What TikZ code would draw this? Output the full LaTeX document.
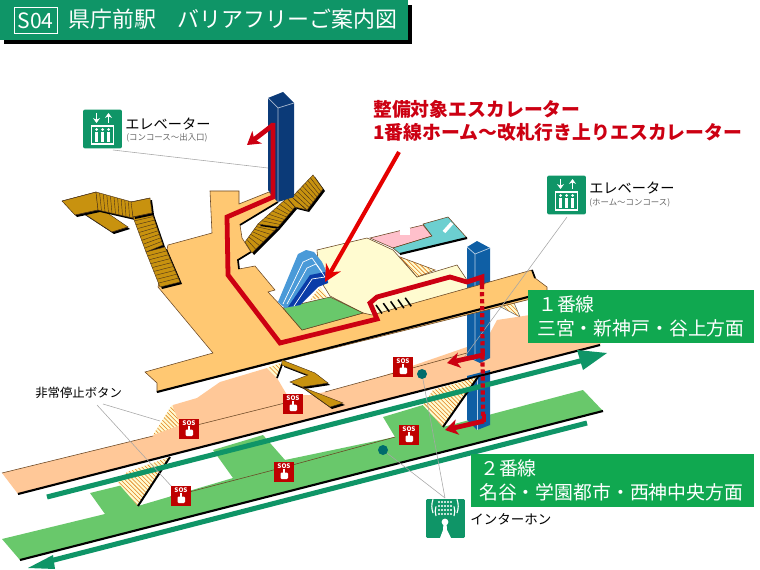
\documentclass[tikz,border=0pt]{standalone}
\usepackage{fontspec}
\setmainfont{Noto Sans CJK JP}
\usetikzlibrary{arrows.meta,calc,patterns}

\definecolor{signgreen}{HTML}{0F9567}
\definecolor{boxgreen}{HTML}{10A850}
\definecolor{floorgreen}{HTML}{69C86B}
\definecolor{concourse}{HTML}{FFC872}
\definecolor{platform}{HTML}{FFC898}
\definecolor{stairgold}{HTML}{C8920F}
\definecolor{navy}{HTML}{0B3A78}
\definecolor{liftblue}{HTML}{0F5FA5}
\definecolor{routered}{HTML}{CC0012}
\definecolor{paleyellow}{HTML}{FFFBD0}
\definecolor{roompink}{HTML}{FFC0CB}
\definecolor{roomteal}{HTML}{6CCFD0}
\definecolor{esclight}{HTML}{4A9AD8}
\definecolor{escdark}{HTML}{0A3CA8}

\tikzset{
  floorline/.style={draw=black!45!brown,line width=.4pt},
  blackedge/.style={draw=black,line width=1.5pt},
  hatched/.style={fill=paleyellow,postaction={pattern=north west lines,pattern color=orange!55!brown}},
  route/.style={draw=routered,line width=3.4pt,line join=miter},
  routearrow/.style={route,-{Stealth[length=9pt,width=11pt,inset=2.5pt]}},
  leader/.style={draw=black!35,line width=.4pt},
  railarrow/.style={draw=signgreen,line width=3.6pt},
  signbox/.style={fill=signgreen,rounded corners=1.5pt,minimum size=27.7pt,inner sep=0pt},
  sosbox/.style={fill=red!75!black,minimum size=14.2pt,inner sep=0pt},
  gokubox/.style={fill=boxgreen,anchor=north west,inner sep=0pt},
  whitetext/.style={text=white,font=\fontsize{13.4pt}{16pt}\selectfont,anchor=west,inner sep=0pt},
  redtext/.style={text=routered,font=\fontsize{13.4pt}{16pt}\selectfont\bfseries,anchor=west,inner sep=0pt},
  signtext/.style={font=\fontsize{10.1pt}{12pt}\selectfont,anchor=west,inner sep=0pt},
  subtext/.style={text=black!60,font=\fontsize{6pt}{7pt}\selectfont,anchor=west,inner sep=0pt},
  elevsign/.pic={
    \draw[white,line width=1.1pt,-{Stealth[length=3.5pt,width=5pt]}] (-6,-16)--(-6,-6);
    \draw[white,line width=1.1pt,-{Stealth[length=3.5pt,width=5pt]}] (6,-6)--(6,-16);
    \draw[white,line width=.9pt] (-11,-3) rectangle (11,15);
    \foreach \i in {-6,0,6} {
      \fill[white] (\i-1.5,3) rectangle (\i+1.5,13);
      \fill[white] (\i,0.5) circle (1.5);
    }
  }
}

% one flight of steps: corners a b c d, treads between a-d and b-c
\newcommand{\stairflight}[5]{
  \fill[black] ($#1+(2,2)$)--($#2+(2,2)$)--($#3+(2,2)$)--($#4+(2,2)$)--cycle;
  \filldraw[fill=stairgold,draw=black!60!brown,line width=.3pt] #1--#2--#3--#4--cycle;
  \foreach \t in {1,...,#5} {
    \draw[black!60!brown,line width=.3pt] ($#1!{\t/(#5+1)}!#4$)--($#2!{\t/(#5+1)}!#3$);
  }
}

\begin{document}
\begin{tikzpicture}[x=.025cm,y=-.025cm]
\useasboundingbox (0,0) rectangle (760,570);

% title bar
\fill[black] (4,5) rectangle (412,44);
\fill[signgreen] (0,0) rectangle (408,40);
\node[draw=white,line width=.6pt,text=white,minimum width=30.5pt,minimum height=19pt,inner sep=0pt,
  font=\fontsize{15pt}{15pt}\selectfont] (lineno) at (35.5,20.5) {S04};
\node[anchor=west,text=white,inner sep=0pt,font=\fontsize{15.6pt}{18pt}\selectfont] (title) at (68,19.5) {県庁前駅　バリアフリーご案内図};

% back of the concourse
\fill[paleyellow,floorline] (317,250)--(367,238)--(393,250)--(417,277)--(457,265)--(467,280)--(470,300)--(380,322)--(363,313)--(330,296)--(320,280)--cycle;
\filldraw[fill=roompink,floorline] (370,238)--(423,225)--(432,236)--(393,248)--cycle;
\fill[white] (400,228) rectangle (410,235);
\filldraw[fill=roomteal,floorline] (423,224)--(448,217)--(467,238)--(400,254)--(393,248)--(432,236)--cycle;
\draw[blackedge] (400,254)--(467,238);
\draw[white,line width=2.5pt] (444,232)--(452,223);
\filldraw[hatched,floorline] (400,257)--(435,270)--(417,277)--cycle;

% platforms
\filldraw[hatched,draw=black!60,line width=.4pt] (497,305)--(512,298)--(520,317)--cycle;
\fill[platform] (2,473)--(153,436)--(173,405)--(197,398)--(220,382)--(267,368)--(277,378)--(287,395)--(310,395)--(325,392)--(380,377)--(467,347)--(490,333)--(497,320)--(530,315)--(610,315)--(600,345)--(18,494)--cycle;
\draw[floorline] (2,473)--(153,436) (325,392)--(467,353) (197,425)--(285,403);
\fill[floorgreen] (2,539)--(105,514)--(90,493)--(135,482)--(138,506)--(233,478)--(213,450)--(263,435)--(285,460)--(395,437)--(383,417)--(423,405)--(443,427)--(583,390)--(603,411)--(20,560)--cycle;
\draw[floorline] (170,497)--(285,467)--(395,437);

% lift shaft through both levels
\fill[liftblue] (467,247)--(477,241)--(490,248)--(490,358)--(480,363)--(467,357)--cycle;
\draw[white!70!liftblue,line width=.5pt] (467,247)--(475,254)--(490,248) (475,254)--(475,360);
\fill[liftblue] (467,376)--(490,370)--(490,425)--(477,430)--(467,420)--cycle;
\draw[white!70!liftblue,line width=.5pt] (477,375)--(477,430);
\draw[blackedge] (18,494)--(600,345);
\draw[blackedge] (20,560)--(603,411);

% walls at the stair wells
\path[hatched] (153,435)--(172,405)--(180,425)--cycle;
\path[hatched] (127,472)--(170,457)--(138,506)--(118,483)--cycle;
\draw[black,line width=1.4pt] (170,457)--(138,506);
\path[hatched] (423,405)--(433,390)--(478,377)--(443,427)--cycle;
\draw[black,line width=1.4pt] (478,377)--(443,427);
\path[hatched] (267,368)--(283,362)--(277,378)--cycle;
\draw[black,line width=1.2pt] (283,362)--(277,378);

% rail direction arrows
\draw[railarrow] (47,497)--(584,360);
\fill[signgreen] (577,350)--(607,353)--(583,370)--cycle;
\draw[railarrow] (587,423)--(50,561);
\fill[signgreen] (28,568)--(53,555)--(55,569)--cycle;

% concourse
\filldraw[fill=concourse,floorline] (210,191)--(239,191)--(239,204)--(269,192)--(278,202)--(240,225)--(242,238)--(251,252)--(238,260)--(239,269)--(255,266)--(275,290)--(268,292)--(283,308)--(302,330)--(363,313)--(372,315)--(532,270)--(535,278)--(547,287)--(547,295)--(157,392)--(157,383)--(145,372)--(213,353)--(158,287)--(168,245)--(212,233)--cycle;
\draw[blackedge] (157,392)--(528,297);
\draw[black,line width=1.2pt] (278,202)--(240,225) (251,252)--(238,260)--(239,269) (532,270)--(535,278);
\filldraw[fill=floorgreen,floorline] (283,308)--(330,297)--(363,313)--(302,330)--cycle;

% escalator
\filldraw[hatched,draw=none] (310,300)--(320,287)--(328,297)--cycle;
\fill[esclight] (278,302)--(298,254)--(306,250)--(314,252)--(322,262)--(328,275)--(328,283)--(318,285)--(300,305)--(285,308)--cycle;
\fill[escdark] (288,307)--(310,275)--(325,272)--(328,283)--(318,287)--(300,305)--cycle;
\draw[white,line width=.5pt] (283,304)--(303,262)--(312,258)--(322,272);
\draw[white,line width=.5pt] (287,304)--(307,268)--(316,264)--(325,277);
\draw[white,line width=.5pt] (294,306)--(312,279)--(325,277);

% stairs
\stairflight{(83,213)}{(103,210)}{(128,227)}{(112,232)}{0}
\stairflight{(62,201)}{(96,192)}{(98,210)}{(75,215)}{0}
\stairflight{(96,192)}{(98,210)}{(133,218)}{(132,202)}{9}
\stairflight{(133,217)}{(152,213)}{(163,245)}{(146,252)}{8}
\stairflight{(146,252)}{(165,247)}{(180,282)}{(160,287)}{8}
\stairflight{(131,202)}{(150,198)}{(152,213)}{(133,217)}{0}
\stairflight{(245,242)}{(252,253)}{(278,227)}{(258,224)}{6}
\stairflight{(258,224)}{(278,227)}{(295,207)}{(287,198)}{7}
\stairflight{(287,198)}{(295,207)}{(307,210)}{(292,197)}{0}
\stairflight{(292,197)}{(307,210)}{(323,189)}{(313,175)}{7}
\fill[black] (284,362)--(317,375)--(330,385)--(304,389)--(345,405)--(332,409)--(304,389)--(292,384)--(310,377)--(284,367)--cycle;
\filldraw[fill=stairgold,draw=black!60!brown,line width=.3pt] (282,360)--(315,373)--(328,383)--(302,387)--(343,403)--(330,407)--(302,387)--(290,382)--(308,375)--(282,365)--cycle;

% upper lift shaft
\fill[navy] (268,98)--(283,92)--(294,103)--(294,197)--(278,202)--(268,190)--cycle;
\draw[white!65!navy,line width=.5pt] (268,98)--(278,108)--(294,103) (278,108)--(278,202);

% step marks at the foot of the escalator
\foreach \i in {0,...,4} {
  \draw[black,line width=1.1pt] (376+\i*7.3,305-\i*1.8)--(382+\i*7.3,313.5-\i*1.8);
}

% signs
\node[signbox] (elevupper) at (102.5,129) {};
\pic at (elevupper) {elevsign};
\node[signbox] (elevlower) at (566.5,195) {};
\pic at (elevlower) {elevsign};
\node[signtext] (elevuppername) at (125,124) {エレベーター};
\node[subtext] (elevuppersub) at (126,138) {(コンコース〜出入口)};
\node[signtext] (elevlowername) at (589,188) {エレベーター};
\node[subtext] (elevlowersub) at (589,203) {(ホーム〜コンコース)};
\node[font=\fontsize{8.8pt}{10pt}\selectfont,anchor=west,inner sep=0pt] (sosname) at (35,393) {非常停止ボタン};

\coordinate (uppershaft) at (268,168);
\coordinate (telone) at (422,374);
\coordinate (teltwo) at (383,450);
\coordinate (lowershaft) at (460,363);
\coordinate (sosleft) at (160,421);
\coordinate (sosright) at (173,488);

% leader lines
\draw[leader] (113,150)--(uppershaft);
\draw[leader] (567,217)--(lowershaft);
\draw[leader] (103,404)--(sosleft);
\draw[leader] (97,405)--(sosright);
\draw[leader] (445,498)--(telone);
\draw[leader] (445,498)--(teltwo);

\foreach \x/\y/\n in {189/429/a,293/404/b,181/496/c,284/472/d,403/367/e,409/435/f} {
  \node[sosbox] (sos\n) at (\x,\y) {};
  \node[text=white,inner sep=0pt,font=\fontsize{4.5pt}{5pt}\selectfont\bfseries] (soslabel\n) at (\x,\y-5.5) {SOS};
  \fill[white,rounded corners=.8pt] (\x-3.5,\y+.5) rectangle (\x+4,\y+7);
  \fill[white] (\x-1,\y-3) rectangle (\x+1,\y+1);
}
\fill[teal!85!black] (telone) circle (5);
\fill[teal!85!black] (teltwo) circle (5);

% intercom sign
\node[fill=signgreen,rounded corners=1pt,minimum size=27.7pt,inner sep=0pt] (intercom) at (445.5,518.5) {};
\foreach \i in {-6,-3,0,3,6} {
  \foreach \j in {498,502,506,510} {
    \fill[white] (445+\i,\j+4) circle (1.1);
  }
}
\fill[white] (445,522) circle (3.4);
\fill[white] (443.5,523)--(446.5,523)--(447,530)--(451,538)--(440,538)--(443,530)--cycle;
\draw[white,line width=.8pt] (436,516) arc (160:200:14) (433,513) arc (160:200:20);
\draw[white,line width=.8pt] (454,516) arc (20:-20:14) (457,513) arc (20:-20:20);
\node[font=\fontsize{9.6pt}{11pt}\selectfont,anchor=west,inner sep=0pt] (intercomname) at (470,519) {インターホン};

% route for the lift users
\draw[route] (273,123)--(273,197)--(227,217)--(228,275)--(280,343)--(377,319)--(370,303)--(377,297)--(450,277)--(467,282)--(482,277)--(482,285);
\draw[routearrow] (273,125)--(247,145);
\draw[route,line width=3pt,dash pattern=on 3pt off 2pt] (482,285)--(483,420);
\draw[routearrow] (483,355)--(447,363);
\draw[route] (483,349)--(483,356);
\draw[routearrow] (484,421)--(445,430);
\draw[route] (484,414)--(484,422);

% escalator callout
\coordinate (calloutstart) at (399,152);
\coordinate (callouttip) at (325,282);
\draw[draw=red!90!black,line width=2.9pt,-{Stealth[length=12pt,width=12pt]}] (calloutstart)--(callouttip);
\node[redtext] (calloutone) at (373,109) {整備対象エスカレーター};
\node[redtext] (callouttwo) at (373,132) {1番線ホーム〜改札行き上りエスカレーター};

% direction boxes
\node[gokubox,minimum width=160.8pt,minimum height=37.7pt] (gokuone) at (528,290) {};
\node[whitetext] at (538,304) {１番線};
\node[whitetext] at (537,328) {三宮・新神戸・谷上方面};
\node[gokubox,minimum width=201.3pt,minimum height=37.7pt] (gokutwo) at (471,454) {};
\node[whitetext] at (480,468) {２番線};
\node[whitetext] at (479,492) {名谷・学園都市・西神中央方面};
\end{tikzpicture}
\end{document}
